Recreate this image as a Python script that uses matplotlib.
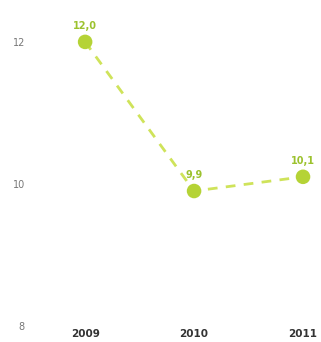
import numpy as np
import matplotlib
matplotlib.use("Agg")
import matplotlib.pyplot as plt

# donnees
annees = ["2009", "2010", "2011"]
valeurs = [12.0, 9.9, 10.1]
etiquettes = ["12,0", "9,9", "10,1"]
yticks = [8, 10, 12]

fig = plt.figure(figsize=(3.21, 3.42), dpi=100)
ax = fig.add_axes([0.125, 0.047, 0.875, 0.953])

x = np.arange(len(annees))
ax.plot(x, valeurs, color="#cfe35a", lw=2, dashes=(3.5, 3), zorder=1)
ax.scatter(x, valeurs, s=110, color="#b5d336", zorder=2, edgecolors="none")

for xi, v, lab in zip(x, valeurs, etiquettes):
    ax.annotate(lab, (xi, v), xytext=(0, 8), textcoords="offset points",
                ha="center", va="bottom", fontsize=7, fontweight="bold", color="#9cc22e")

ax.set_xlim(-0.413, 2.165)
ax.set_ylim(8, 12.59)
ax.set_xticks(x)
ax.set_xticklabels(annees, fontsize=7.5, fontweight="bold", color="#333333")
ax.set_yticks(yticks)
ax.set_yticklabels([str(t) for t in yticks], fontsize=7, color="#777777")
ax.tick_params(axis="x", length=0, pad=2)
ax.tick_params(axis="y", length=0, pad=11)
for s in ax.spines.values():
    s.set_visible(False)

fig.savefig("out.png", dpi=100)
